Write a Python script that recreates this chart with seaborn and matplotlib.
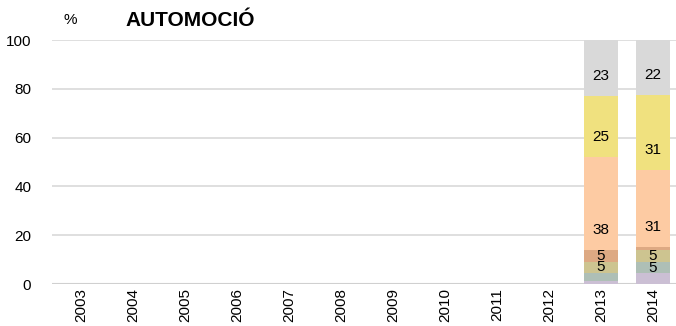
import seaborn as sns
import matplotlib.pyplot as plt
import pandas as pd
import numpy as np

# anys i segments (de baix a dalt)
anys = [str(a) for a in range(2003, 2015)]
seg_2013 = [1.2, 3.4, 4.6, 4.6, 38.2, 25.0, 23.0]
seg_2014 = [4.4, 4.6, 4.8, 1.4, 31.4, 31.0, 22.4]
colors = ["#cbbfd4", "#aebfb6", "#cdc490", "#dda983", "#fdcba3", "#f0e17f", "#d9d9d9"]

dades = {"2013": seg_2013, "2014": seg_2014}

sns.set_theme(style="white")
plt.rcParams["font.family"] = ["Liberation Sans", "DejaVu Sans"]
plt.rcParams["text.color"] = "black"
plt.rcParams["xtick.color"] = "black"
plt.rcParams["ytick.color"] = "black"

fig = plt.figure(figsize=(6.76, 3.26), dpi=100)
ax = fig.add_axes([52 / 676, 1 - 284 / 326, 627 / 676, 244 / 326])

n = len(seg_2013)
# capes acumulades, de la mes alta a la mes baixa
for i in range(n - 1, -1, -1):
    vals = []
    for a in anys:
        if a in dades:
            vals.append(sum(dades[a][: i + 1]))
        else:
            vals.append(np.nan)
    df = pd.DataFrame({"any": anys, "val": vals})
    sns.barplot(x="any", y="val", data=df, order=anys, color=colors[i],
                width=0.66, saturation=1, linewidth=0, edgecolor="none",
                ax=ax, zorder=2)

# etiquetes (a prop de la base de cada segment, com a l'original)
for a, segs in dades.items():
    x = anys.index(a)
    base = 0
    for v in segs:
        if round(v) >= 5:
            ax.text(x, base + min(v / 2, 8.2), str(int(round(v))), ha="center",
                    va="center", fontsize=11, color="black", zorder=3)
        base += v

ax.set_ylim(0, 100)
ax.set_yticks(range(0, 101, 20))
ax.yaxis.grid(True, color="#d9d9d9", linewidth=1.2, zorder=0)
ax.set_axisbelow(True)
for s in ax.spines.values():
    s.set_visible(False)
ax.axhline(0, color="#d0d0d0", linewidth=1.5, zorder=1)
ax.set_xlabel("")
ax.set_ylabel("")
ax.tick_params(axis="x", labelrotation=90, labelsize=11, pad=3, length=0,
               labelcolor="black")
ax.tick_params(axis="y", labelsize=11, pad=15, length=0, labelcolor="black")
ax.set_xlim(-0.56, len(anys) - 0.5)

fig.text(70 / 676, 1 - 20 / 326, "%", fontsize=11, ha="center", va="center",
         color="black")
fig.text(125 / 676, 1 - 20 / 326, "AUTOMOCIÓ", fontsize=15, fontweight="bold",
         ha="left", va="center", color="black")

fig.savefig("out.png", dpi=100)
